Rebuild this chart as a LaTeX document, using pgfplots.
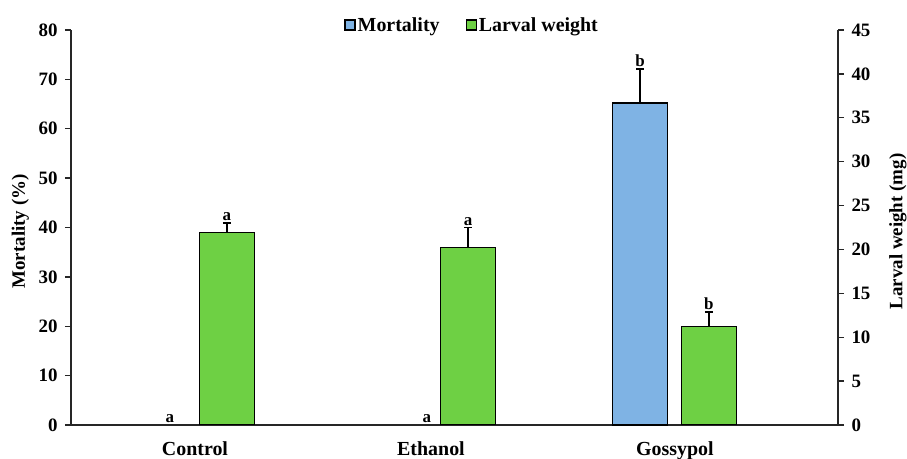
\documentclass[border=0pt]{standalone}
\usepackage{fontspec}
\setmainfont{Liberation Serif}
\usepackage{pgfplots}
\pgfplotsset{compat=1.18}
\definecolor{mortblue}{RGB}{127,179,228}
\definecolor{larvgreen}{RGB}{110,208,68}
\tikzset{letter/.style={font=\fontsize{17}{17}\selectfont\bfseries, anchor=south, inner sep=2bp}}

\begin{document}
\begin{tikzpicture}
\path[use as bounding box] (-71bp,-34bp) rectangle (836bp,425bp);
\pgfplotsset{
  every axis/.append style={
    scale only axis, width=767bp, height=395bp,
    xmin=0, xmax=3, ymin=0,
    axis line style={line width=1.8bp, black!85},
    tick style={line width=1.4bp, black!85},
    major tick length=6bp, tick align=outside,
    ticklabel style={font=\fontsize{19}{19}\selectfont\bfseries},
    label style={font=\fontsize{19}{19}\selectfont\bfseries},
    /pgf/number format/assume math mode=true,
  },
  barstyle/.style={ybar, bar width=55bp, bar shift=0pt, draw=black, line width=1.3bp,
    error bars/y dir=plus, error bars/y explicit,
    error bars/error bar style={line width=1.6bp, black},
    error bars/error mark options={rotate=90, mark size=4bp, line width=1.6bp, black}},
}
\begin{axis}[
  axis x line*=bottom, axis y line*=left,
  ymax=80, ytick={0,10,...,80},
  yticklabel style={xshift=-4bp},
  xtick={0.485,1.408,2.362},
  xticklabels={Control,Ethanol,Gossypol},
  xticklabel style={font=\fontsize{20}{20}\selectfont\bfseries, yshift=-7bp},
  major x tick style={draw=none},
  ylabel={Mortality (\%)},
  ylabel style={at={(axis description cs:-0.066,0.49)}, anchor=center},
]
% mortality is 0 for Control and Ethanol: kept as data, nothing drawn
\addplot[ybar, bar width=55bp, bar shift=0pt, draw=none, fill=none] coordinates {
  (0.387,0) (1.392,0)
};
\addplot[fill=mortblue, barstyle] coordinates {
  (2.226,65.2) +- (0,6.9)
};
\node[letter] at (axis cs:0.387,0) {a};
\node[letter] at (axis cs:1.392,0) {a};
\node[letter] at (axis cs:2.226,72.1) {b};
\end{axis}
\begin{axis}[
  axis x line=none, axis y line*=right,
  ymax=45, ytick={0,5,...,45},
  yticklabel style={xshift=4bp},
  ylabel={Larval weight (mg)},
  ylabel style={at={(axis description cs:1.078,0.49)}, anchor=center},
  legend style={at={(axis description cs:0.523,1.013)}, anchor=center,
    legend columns=2, draw=none, fill=none,
    font=\fontsize{20}{20}\selectfont\bfseries,
    /tikz/every even column/.append style={column sep=24bp}},
  legend image code/.code={\draw[#1, line width=1.3bp] (-4bp,-5bp) rectangle (6bp,5bp);},
]
\addlegendimage{fill=mortblue, draw=black}
\addlegendentry{Mortality}
\addplot[fill=larvgreen, barstyle] coordinates {
  (0.610,21.9) +- (0,1.1)
  (1.553,20.2) +- (0,2.3)
  (2.495,11.2) +- (0,1.7)
};
\addlegendentry{Larval weight}
\node[letter] at (axis cs:0.610,23.0) {a};
\node[letter] at (axis cs:1.553,22.5) {a};
\node[letter] at (axis cs:2.495,12.9) {b};
\end{axis}
\end{tikzpicture}
\end{document}
